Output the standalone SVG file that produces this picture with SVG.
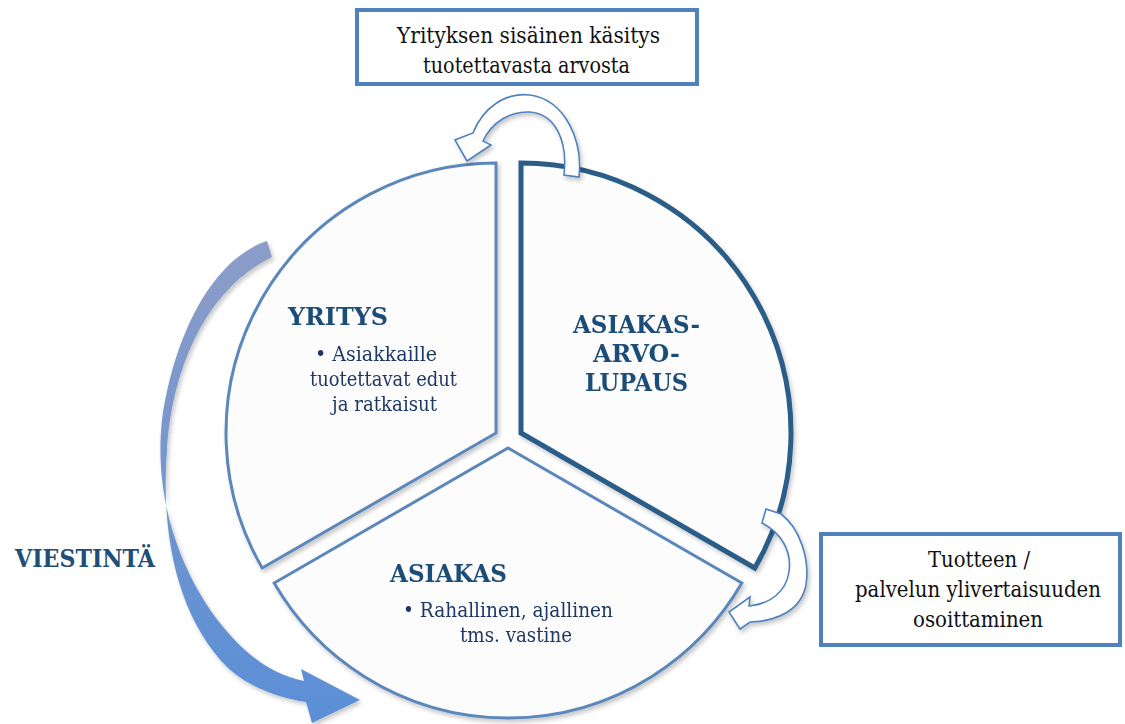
<svg xmlns="http://www.w3.org/2000/svg" width="1125" height="724" viewBox="0 0 1125 724">
  <defs>
    <style>
      .sector { fill: #fcfcfc; stroke: #5b87bb; stroke-width: 3; stroke-linejoin: miter; }
      .sector-dark { fill: #fcfcfc; stroke: #2b5d88; stroke-width: 5; stroke-linejoin: miter; }
      .box { fill: #ffffff; stroke: #4f81bd; stroke-width: 4; }
      .serif { font-family: "DejaVu Serif", "Liberation Serif", serif; }
      .box-text { font-size: 22px; fill: #111111; }
      .head { font-size: 23.5px; font-weight: bold; fill: #1f4e79; }
      .body { font-size: 20.5px; fill: #1f3864; }
      .loop { fill: #ffffff; stroke: #4f81bd; stroke-width: 1.6; stroke-linejoin: miter; }
    </style>
    <linearGradient id="flowGrad" gradientUnits="userSpaceOnUse" x1="0" y1="240" x2="0" y2="720">
      <stop offset="0" stop-color="#8c9dc8"/>
      <stop offset="0.5" stop-color="#7396cf"/>
      <stop offset="1" stop-color="#5a8fd6"/>
    </linearGradient>
    <filter id="soft" x="-10%" y="-10%" width="130%" height="130%">
      <feDropShadow dx="2" dy="3" stdDeviation="2" flood-color="#000000" flood-opacity="0.22"/>
    </filter>
  </defs>

  <rect width="1125" height="724" fill="#ffffff"/>

  <!-- three exploded segments of the value circle -->
  <g id="node-yritys" class="serif" filter="url(#soft)">
    <path class="sector" d="M 496 433 L 496 163 A 270 270 0 0 0 262.2 568 Z"/>
    <text class="head" x="288" y="325" textLength="100" lengthAdjust="spacingAndGlyphs">YRITYS</text>
    <text class="body" x="315" y="361" textLength="122" lengthAdjust="spacingAndGlyphs">• Asiakkaille</text>
    <text class="body" x="310" y="386" textLength="147" lengthAdjust="spacingAndGlyphs">tuotettavat edut</text>
    <text class="body" x="332" y="411" textLength="105" lengthAdjust="spacingAndGlyphs">ja ratkaisut</text>
  </g>

  <g id="node-lupaus" class="serif" filter="url(#soft)">
    <path class="sector-dark" d="M 521 433 L 521 163 A 270 270 0 0 1 754.8 568 Z"/>
    <text class="head" x="573" y="333" textLength="127" lengthAdjust="spacingAndGlyphs">ASIAKAS-</text>
    <text class="head" x="593" y="362" textLength="87" lengthAdjust="spacingAndGlyphs">ARVO-</text>
    <text class="head" x="585" y="391" textLength="103" lengthAdjust="spacingAndGlyphs">LUPAUS</text>
  </g>

  <g id="node-asiakas" class="serif" filter="url(#soft)">
    <path class="sector" d="M 508 448 L 741.8 583 A 270 270 0 0 1 274.2 583 Z"/>
    <text class="head" x="390" y="582" textLength="117" lengthAdjust="spacingAndGlyphs">ASIAKAS</text>
    <text class="body" x="403" y="617" textLength="210" lengthAdjust="spacingAndGlyphs">• Rahallinen, ajallinen</text>
    <text class="body" x="460" y="642" textLength="112" lengthAdjust="spacingAndGlyphs">tms. vastine</text>
  </g>

  <!-- text boxes -->
  <g id="node-box-top" class="serif">
    <rect class="box" x="357" y="10" width="340" height="74"/>
    <text class="box-text" x="397" y="43" textLength="263" lengthAdjust="spacingAndGlyphs">Yrityksen sisäinen käsitys</text>
    <text class="box-text" x="423" y="73" textLength="207" lengthAdjust="spacingAndGlyphs">tuotettavasta arvosta</text>
  </g>

  <g id="node-box-right" class="serif" text-anchor="middle">
    <rect class="box" x="821" y="534" width="299" height="111"/>
    <text class="box-text" x="979" y="567" textLength="102" lengthAdjust="spacingAndGlyphs">Tuotteen /</text>
    <text class="box-text" x="978" y="597" textLength="246" lengthAdjust="spacingAndGlyphs">palvelun ylivertaisuuden</text>
    <text class="box-text" x="978" y="627" textLength="130" lengthAdjust="spacingAndGlyphs">osoittaminen</text>
  </g>

  <g id="label-viestinta" class="serif">
    <text class="head" x="15" y="567" textLength="140" lengthAdjust="spacingAndGlyphs">VIESTINTÄ</text>
  </g>

  <!-- connectors -->
  <g id="connectors">
    <!-- communication sweep around the left side -->
    <path fill="url(#flowGrad)" filter="url(#soft)"
      d="M 267 241 C 215 258, 175 330, 162 420 C 152 510, 190 600, 245 650 C 265 668, 285 677, 304 681 L 301 669 L 360 700 L 312 723 L 306 702 C 280 698, 250 688, 228 668 C 180 620, 160 540, 167 450 C 172 370, 205 290, 272 257 Z"/>
    <!-- loop from promise back to company -->
    <path class="loop" filter="url(#soft)"
      d="M 579 177 C 583 140, 565 100, 530 95 C 505 92, 483 108, 473 133 L 455 140 L 467 161 L 491 145 L 483 141 C 492 122, 510 111, 530 112 C 555 114, 568 140, 564 175 Z"/>
    <!-- loop from promise down to customer -->
    <path class="loop" filter="url(#soft)"
      d="M 766 509 L 781 514 C 800 528, 810 560, 806 585 C 801 610, 778 621, 750 622 L 740 629 L 729 612 L 750 597 L 749 606 C 770 604, 786 592, 789 572 C 792 552, 782 533, 762 523 Z"/>
  </g>
</svg>
